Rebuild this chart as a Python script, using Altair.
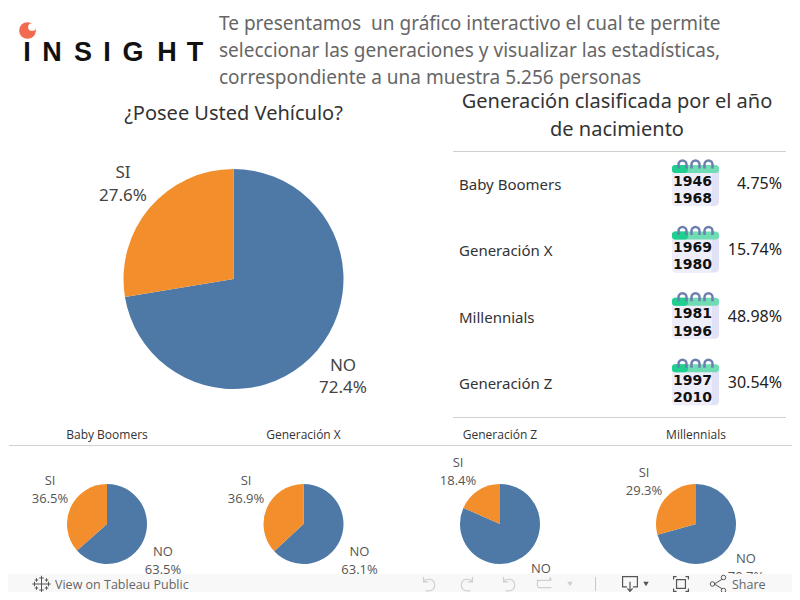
import altair as alt

# ---------- data ----------
header_lines = ["Te presentamos\u00a0 un gráfico interactivo el cual te permite",
                "seleccionar las generaciones y visualizar las estadísticas,",
                "correspondiente a una muestra 5.256 personas"]
main_title = "¿Posee Usted Vehículo?"
gen_title = ["Generación clasificada por el año", "de nacimiento"]
logo_letters = list("INSIGHT")
answers = ["NO", "SI"]
main_values = [72.4, 27.6]
generations = ["Baby Boomers", "Generación X", "Millennials", "Generación Z"]
gen_share = ["4.75%", "15.74%", "48.98%", "30.54%"]
gen_years = [("1946", "1968"), ("1969", "1980"), ("1981", "1996"), ("1997", "2010")]
small_titles = ["Baby Boomers", "Generación X", "Generación Z", "Millennials"]
small_no = [63.5, 63.1, 81.6, 70.7]
small_si = [36.5, 36.9, 18.4, 29.3]
footer_left = "View on Tableau Public"
footer_right = "Share"

# ---------- layout / style ----------
BLUE, ORANGE = "#4e79a7", "#f28e2b"
FONT = "Noto Sans"
def X(v): return alt.value(v - 8)
def Y(v): return alt.value(v - 8)
layers = []

def text(s, x, y, size=12, color="#333333", align="center", font=FONT, weight="normal"):
    layers.append(alt.Chart(alt.Data(values=[{"t": s}])).mark_text(
        align=align, baseline="middle", fontSize=size, color=color, font=font, fontWeight=weight
    ).encode(x=X(x), y=Y(y), text="t:N"))

def rect(x, y, x2, y2, color, radius=0):
    layers.append(alt.Chart(alt.Data(values=[{"a": 1}])).mark_rect(color=color, cornerRadius=radius).encode(
        x=X(x), x2=X(x2), y=Y(y), y2=Y(y2)))

def hline(y, x, x2, color="#d0d0d0", w=1):
    layers.append(alt.Chart(alt.Data(values=[{"a": 1}])).mark_rule(color=color, strokeWidth=w).encode(
        x=X(x), x2=X(x2), y=Y(y)))

def vline(x, y, y2, color="#c8c8c8", w=1):
    layers.append(alt.Chart(alt.Data(values=[{"a": 1}])).mark_rule(color=color, strokeWidth=w).encode(
        x=X(x), y=Y(y), y2=Y(y2)))

def icon(path, x, y, size, color="#666666", w=1.0, fill=False):
    layers.append(alt.Chart(alt.Data(values=[{"a": 1}])).mark_point(
        shape=path, filled=fill, color=color, strokeWidth=w, opacity=1
    ).encode(x=X(x), y=Y(y), size=alt.value(size)))

def pie(vals, cx, cy, r):
    rows = [{"answer": a, "value": v, "ord": i} for i, (a, v) in enumerate(zip(answers, vals))]
    layers.append(alt.Chart(alt.Data(values=rows)).mark_arc(outerRadius=r, innerRadius=0).encode(
        theta=alt.Theta("value:Q", stack=True, scale=alt.Scale(domain=[0, 100])),
        color=alt.Color("answer:N", legend=None, scale=alt.Scale(domain=answers, range=[BLUE, ORANGE])),
        order=alt.Order("ord:Q"),
        x=X(cx), y=Y(cy)))

# logo
layers.append(alt.Chart(alt.Data(values=[{"a": 1}])).mark_point(filled=True, color="#f26a50", opacity=1).encode(
    x=X(27.5), y=Y(30.5), size=alt.value(280), shape=alt.value("circle")))
layers.append(alt.Chart(alt.Data(values=[{"a": 1}])).mark_point(filled=True, color="#ffffff", opacity=1).encode(
    x=X(32), y=Y(27), size=alt.value(60), shape=alt.value("circle")))
for ch, lx in zip(logo_letters, [27, 52, 83, 107, 133, 167, 195]):
    text(ch, lx, 53, size=27, color="#111111", font="Liberation Sans", weight="bold")

# header
for line, y in zip(header_lines, [24, 51, 78]):
    text(line, 219, y, size=19, color="#666666", align="left")

# main pie
text(main_title, 233.5, 114, size=20)
pie(main_values, 233.5, 279, 110)
text("SI", 123, 173, size=17, color="#444444")
text(f"{main_values[1]}%", 123, 196, size=17, color="#444444")
text("NO", 343, 366, size=17, color="#444444")
text(f"{main_values[0]}%", 343, 388, size=17, color="#444444")

# generation table
text(gen_title[0], 617, 101.5, size=20)
text(gen_title[1], 617, 129.5, size=20)
hline(151.5, 453, 786)
hline(417.5, 453, 786)
ring = "M-1,1 L-1,0 A1,1 0 0 1 1,0 L1,1"
for i, (g, share, yrs) in enumerate(zip(generations, gen_share, gen_years)):
    o = i * 66.4
    text(g, 459, 185 + o, size=15, align="left", color="#333333")
    text(share, 782, 184 + o, size=16, align="right", color="#222222")
    rect(672, 166 + o, 719, 206 + o, "#e2e2f6", 4)
    rect(672, 166 + o, 712, 206 + o, "#eeeefb", 4)
    rect(672, 165 + o, 719, 173 + o, "#6fdcb4", 3)
    rect(672, 165 + o, 688, 173 + o, "#1ecf90", 3)
    for rx in [682.5, 695.5, 708.5]:
        icon(ring, rx, 164.5 + o, 64, color="#6d7fb0", w=2.5)
    text(yrs[0], 692.5, 181.5 + o, size=14, color="#111111", font="DejaVu Sans", weight="bold")
    text(yrs[1], 692.5, 199 + o, size=14, color="#111111", font="DejaVu Sans", weight="bold")

# small multiples
hline(445.5, 9, 792)
cxs = [107, 303.5, 500, 696]
si_xy = [(50, 481), (246, 481), (458, 463), (644, 473)]
si_dy = 17.5
no_xy = [(163, 552), (359.5, 552), (541, 569), (746, 559)]
for t, no, si, cx, (sx, sy), (nx, ny) in zip(small_titles, small_no, small_si, cxs, si_xy, no_xy):
    text(t, cx, 435, size=12, color="#333333", font="Open Sans")
    pie([no, si], cx, 524, 40)
    text("SI", sx, sy, size=13, color="#555555", font="Open Sans")
    text(f"{si}%", sx, sy + si_dy, size=13, color="#555555", font="Open Sans")
    text("NO", nx, ny, size=13, color="#555555", font="Open Sans")
    if ny + si_dy < 580:  # the Generación Z percentage lies entirely behind the footer in the reference
        text(f"{no}%", nx, ny + si_dy, size=13, color="#555555", font="Open Sans")

# footer (the page ends at y=592, so it is centred a little higher to stay whole)
FY = 584
rect(8, 574, 792, 592, "#f8f8f8")
text(footer_left, 55, FY + 0.5, size=12.5, color="#666666", align="left", font="Open Sans")
text(footer_right, 732, FY + 0.5, size=12.5, color="#666666", align="left", font="Open Sans")
plus = "M0,-1 L0,1 M-1,0 L1,0"
for dx, dy, s in [(0, 0, 100), (-7, 0, 20), (7, 0, 20), (0, -6, 20), (0, 6, 20),
                  (-5, -4, 12), (5, -4, 12), (-5, 4, 12), (5, 4, 12)]:
    icon(plus, 41.5 + dx, FY + dy, s, color="#555555", w=1)
undo = "M-.6,-.95 L-.6,-.3 L.05,-.3 M-.6,-.3 C-.3,-.8 .9,-.8 .9,.1 C.9,.9 .2,1 -.3,.9"
redo = "M.6,-.95 L.6,-.3 L-.05,-.3 M.6,-.3 C.3,-.8 -.9,-.8 -.9,.1 C-.9,.9 -.2,1 .3,.9"
icon(undo, 428, FY, 220, color="#cfcfcf", w=1.2)
icon(redo, 468, FY, 220, color="#cfcfcf", w=1.2)
icon(undo, 508, FY, 220, color="#cfcfcf", w=1.2)
icon("M-1,-.5 L.8,-.5 L.8,-.9 L1,-.5 M1,.5 L-.6,.5 C-1,.5 -1,-.5 -.6,-.5", 544, FY, 220, color="#cfcfcf", w=1.2)
layers.append(alt.Chart(alt.Data(values=[{"a": 1}])).mark_point(filled=True, color="#cfcfcf", opacity=1, shape="triangle-down").encode(
    x=X(570), y=Y(FY), size=alt.value(30)))
vline(595.5, FY - 7, FY + 7)
icon("M-.4,.4 L-1,.4 L-1,-1 L1,-1 L1,.4 L.4,.4 M0,-.3 L0,1 M-.35,.6 L0,1 L.35,.6", 630, FY, 220, color="#555555", w=1.2)
layers.append(alt.Chart(alt.Data(values=[{"a": 1}])).mark_point(filled=True, color="#555555", opacity=1, shape="triangle-down").encode(
    x=X(646), y=Y(FY), size=alt.value(30)))
icon("M-1,-.6 L-1,-1 L-.6,-1 M.6,-1 L1,-1 L1,-.6 M1,.6 L1,1 L.6,1 M-.6,1 L-1,1 L-1,.6 M-.6,-.6 L.6,-.6 L.6,.6 L-.6,.6 Z", 681, FY, 220, color="#555555", w=1.2)
icon("M-.55,0 L.6,-.7 M-.55,0 L.6,.7", 718, FY, 180, color="#555555", w=1)
for dx, dy in [(-5.5, 0), (5.5, -6.5), (5.5, 6.5)]:
    layers.append(alt.Chart(alt.Data(values=[{"a": 1}])).mark_point(filled=True, color="#f8f8f8", stroke="#555555", strokeWidth=1, opacity=1).encode(
        x=X(718 + dx), y=Y(FY + dy), size=alt.value(20), shape=alt.value("circle")))

chart = alt.layer(*layers).properties(
    width=784, height=584, padding=0, autosize=alt.AutoSizeParams(type="none")
).configure_view(stroke=None)
chart.save("out.html", embed_options={"renderer": "svg", "actions": False})
